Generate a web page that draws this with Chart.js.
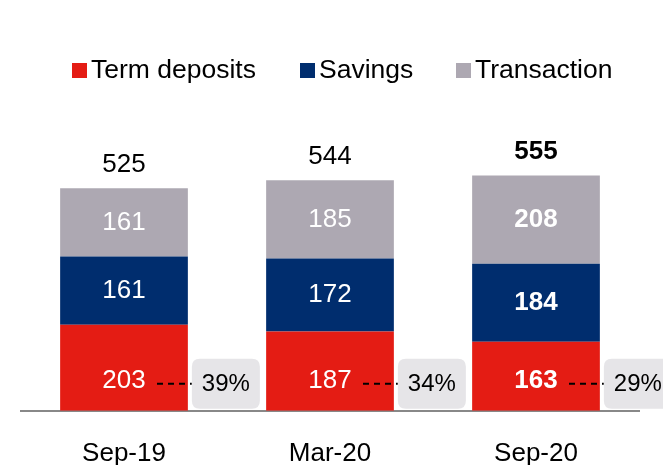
<!DOCTYPE html>
<html>
<head>
<meta charset="utf-8">
<script src="https://cdn.jsdelivr.net/npm/chart.js@4.4.1/dist/chart.umd.min.js"></script>
<style>
  body { margin: 0; background: #fff; }
  #wrap { width: 663px; height: 465px; }
</style>
</head>
<body>
<div id="wrap"><canvas id="grafico" width="663" height="465"></canvas></div>
<script>
  // dados
  var periodos = ['Sep-19', 'Mar-20', 'Sep-20'];
  var termDeposits = [203, 187, 163];
  var savings = [161, 172, 184];
  var transaction = [161, 185, 208];
  var totais = [525, 544, 555];
  var percTermo = ['39%', '34%', '29%'];

  var cores = {
    termo: '#E41C14',
    poupanca: '#002D6E',
    transacao: '#ADA8B2'
  };

  var fonte = 'Liberation Sans, Arial, sans-serif';

  function caixaArredondada(ctx, x, y, w, h, r) {
    ctx.beginPath();
    ctx.moveTo(x + r, y);
    ctx.lineTo(x + w - r, y);
    ctx.quadraticCurveTo(x + w, y, x + w, y + r);
    ctx.lineTo(x + w, y + h - r);
    ctx.quadraticCurveTo(x + w, y + h, x + w - r, y + h);
    ctx.lineTo(x + r, y + h);
    ctx.quadraticCurveTo(x, y + h, x, y + h - r);
    ctx.lineTo(x, y + r);
    ctx.quadraticCurveTo(x, y, x + r, y);
    ctx.closePath();
  }

  var rotulos = {
    id: 'rotulos',
    afterDatasetsDraw: function (chart) {
      var ctx = chart.ctx;
      ctx.save();

      // legenda
      var itens = [
        { x: 72, txt: 'Term deposits', cor: cores.termo },
        { x: 300, txt: 'Savings', cor: cores.poupanca },
        { x: 456, txt: 'Transaction', cor: cores.transacao }
      ];
      ctx.textAlign = 'left';
      ctx.textBaseline = 'alphabetic';
      ctx.font = '26.5px ' + fonte;
      itens.forEach(function (it) {
        ctx.fillStyle = it.cor;
        ctx.fillRect(it.x, 63, 15, 15);
        ctx.fillStyle = '#000';
        ctx.fillText(it.txt, it.x + 19, 78);
      });

      // valores dentro das barras
      chart.data.datasets.forEach(function (ds, i) {
        var meta = chart.getDatasetMeta(i);
        meta.data.forEach(function (bar, j) {
          var negrito = j === 2 ? 'bold ' : '';
          ctx.font = negrito + '26px ' + fonte;
          ctx.fillStyle = '#fff';
          ctx.textAlign = 'center';
          ctx.textBaseline = 'middle';
          var y = (bar.y + bar.base) / 2;
          if (i === 0) y = bar.base - 30;
          ctx.fillText(ds.data[j], bar.x, y);
        });
      });

      // totais e percentuais
      var metaTopo = chart.getDatasetMeta(2);
      var metaBase = chart.getDatasetMeta(0);
      metaTopo.data.forEach(function (bar, j) {
        var negrito = j === 2 ? 'bold ' : '';
        ctx.font = negrito + '26px ' + fonte;
        ctx.fillStyle = '#000';
        ctx.textAlign = 'center';
        ctx.textBaseline = 'alphabetic';
        ctx.fillText(totais[j], bar.x, bar.y - 16);

        var b = metaBase.data[j];
        var dir = b.x + b.width / 2;
        var yl = b.base - 27;
        ctx.strokeStyle = '#000';
        ctx.lineWidth = 2;
        ctx.setLineDash([6, 5]);
        ctx.beginPath();
        ctx.moveTo(b.x + 33, yl);
        ctx.lineTo(dir + 4, yl);
        ctx.stroke();
        ctx.setLineDash([]);

        ctx.fillStyle = '#E6E5E8';
        caixaArredondada(ctx, dir + 4, yl - 25, 68, 50, 8);
        ctx.fill();
        ctx.fillStyle = '#000';
        ctx.font = '24px ' + fonte;
        ctx.textBaseline = 'middle';
        ctx.fillText(percTermo[j], dir + 38, yl + 1);
      });

      ctx.restore();
    }
  };

  var ctx = document.getElementById('grafico').getContext('2d');
  var grafico = new Chart(ctx, {
    type: 'bar',
    data: {
      labels: periodos,
      datasets: [
        { label: 'Term deposits', data: termDeposits, backgroundColor: cores.termo },
        { label: 'Savings', data: savings, backgroundColor: cores.poupanca },
        { label: 'Transaction', data: transaction, backgroundColor: cores.transacao }
      ]
    },
    options: {
      responsive: false,
      animation: false,
      layout: { padding: { top: 114, left: 21, right: 24, bottom: -31 } },
      datasets: { bar: { categoryPercentage: 1, barPercentage: 0.62 } },
      plugins: { legend: { display: false }, tooltip: { enabled: false } },
      scales: {
        x: {
          stacked: true,
          grid: { display: false, drawTicks: false },
          border: { display: true, color: '#888888', width: 2 },
          ticks: { color: '#000', padding: 27, font: { size: 26, family: fonte } }
        },
        y: {
          stacked: true,
          display: false,
          min: 0,
          max: 700
        }
      }
    },
    plugins: [rotulos]
  });
</script>
</body>
</html>
